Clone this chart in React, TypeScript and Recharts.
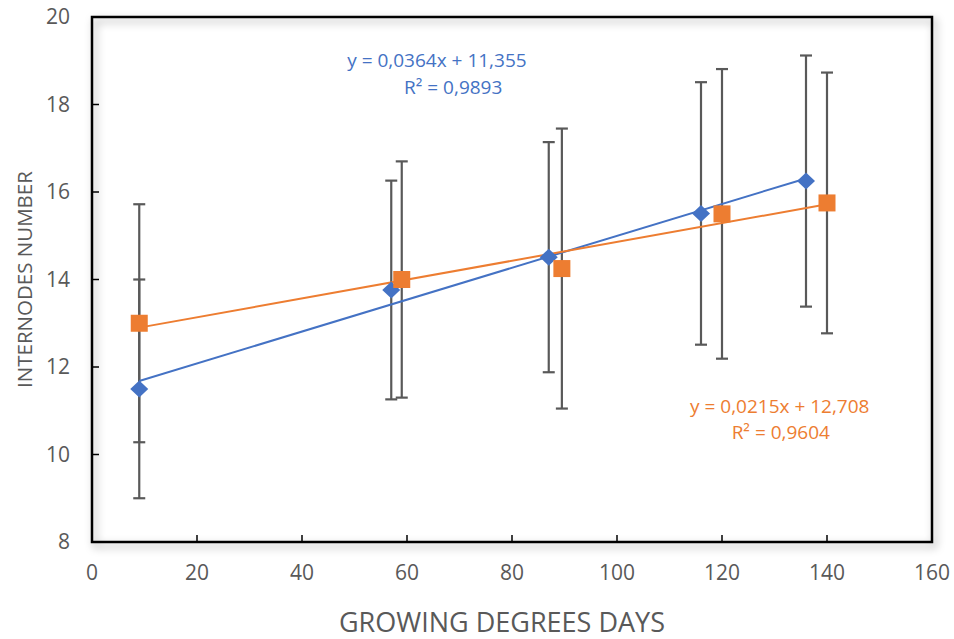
import React from 'react';
import {
    ScatterChart,
    Scatter,
    XAxis,
    YAxis,
    ErrorBar,
    ReferenceArea,
    ReferenceDot
} from 'recharts';

const FONT = '"Open Sans", "Noto Sans", sans-serif';
const TEXT = '#595959';
const BLUE = '#4472C4';
const ORANGE = '#ED7D31';
const BAR = '#595959';

// axis ticks
const xTicks = [0, 20, 40, 60, 80, 100, 120, 140, 160];
const yTicks = [8, 10, 12, 14, 16, 18, 20];

// blue series (diamonds)
const blueX = [9, 57, 87, 116, 136];
const blueY = [11.5, 13.76, 14.51, 15.51, 16.25];
const blueErr = [2.5, 2.5, 2.63, 3.0, 2.87];

// orange series (squares)
const orangeX = [9, 59, 89.5, 120, 140];
const orangeY = [13.0, 14.0, 14.25, 15.5, 15.75];
const orangeErr = [2.72, 2.7, 3.2, 3.31, 2.98];

// linear trendline end points
const blueTrendX = [9, 136];
const blueTrendY = [11.68, 16.31];
const orangeTrendX = [9, 140];
const orangeTrendY = [12.9, 15.72];

const blueData = blueX.map((x, i) => ({ x, y: blueY[i], err: blueErr[i] }));
const orangeData = orangeX.map((x, i) => ({ x, y: orangeY[i], err: orangeErr[i] }));
const blueTrend = blueTrendX.map((x, i) => ({ x, y: blueTrendY[i] }));
const orangeTrend = orangeTrendX.map((x, i) => ({ x, y: orangeTrendY[i] }));

const Diamond = (props: any) => {
    const { cx, cy } = props;
    return <path d={`M${cx},${cy - 8.5} L${cx + 9},${cy} L${cx},${cy + 8.5} L${cx - 9},${cy} Z`} fill={BLUE} />;
};

const Square = (props: any) => {
    const { cx, cy } = props;
    return <rect x={cx - 8.5} y={cy - 8.5} width={17} height={17} fill={ORANGE} />;
};

const NoDot = () => <g />;

const PlotBorder = (props: any) => (
    <rect
        x={props.x}
        y={props.y}
        width={props.width}
        height={props.height}
        fill="none"
        stroke="#000"
        strokeWidth={2.5}
        style={{ filter: 'drop-shadow(3px 4px 4px rgba(0,0,0,0.35))' }}
    />
);

const tickStyle = { fontSize: 21, fill: TEXT, fontFamily: FONT };
const eqStyle = { fontSize: 19, fontFamily: FONT };

export default function App() {
    return (
        <div style={{ position: 'absolute', left: 0, top: 0, width: 954, height: 639, background: '#fff', fontFamily: FONT }}>
            <ScatterChart width={954} height={639} margin={{ top: 17, right: 22, left: 0, bottom: 0 }}>
                <XAxis
                    type="number"
                    dataKey="x"
                    domain={[0, 160]}
                    ticks={xTicks}
                    interval={0}
                    height={97}
                    axisLine={false}
                    tickLine={{ stroke: '#000', strokeWidth: 1.5 }}
                    tickSize={-7}
                    tickMargin={30}
                    tick={tickStyle}
                    fontSize={21}
                    label={{
                        value: 'GROWING DEGREES DAYS',
                        position: 'insideBottom',
                        offset: 7,
                        dx: -10,
                        fill: TEXT,
                        fontSize: 27,
                        fontFamily: FONT
                    }}
                />
                <YAxis
                    type="number"
                    dataKey="y"
                    domain={[8, 20]}
                    ticks={yTicks}
                    interval={0}
                    width={92}
                    axisLine={false}
                    tickLine={{ stroke: '#000', strokeWidth: 1.5 }}
                    tickSize={-7}
                    tickMargin={29}
                    tick={tickStyle}
                    fontSize={21}
                    label={{
                        value: 'INTERNODES NUMBER',
                        angle: -90,
                        position: 'insideLeft',
                        offset: 25,
                        textAnchor: 'middle',
                        fill: TEXT,
                        fontSize: 20.5,
                        fontFamily: FONT
                    }}
                />
                <Scatter data={blueData} shape={NoDot} isAnimationActive={false}>
                    <ErrorBar dataKey="err" direction="y" width={6} stroke={BAR} strokeWidth={2.2} />
                </Scatter>
                <Scatter data={orangeData} shape={NoDot} isAnimationActive={false}>
                    <ErrorBar dataKey="err" direction="y" width={6} stroke={BAR} strokeWidth={2.2} />
                </Scatter>
                <Scatter
                    data={blueTrend}
                    shape={NoDot}
                    line={{ stroke: BLUE, strokeWidth: 2 }}
                    lineType="joint"
                    isAnimationActive={false}
                />
                <Scatter
                    data={orangeTrend}
                    shape={NoDot}
                    line={{ stroke: ORANGE, strokeWidth: 2 }}
                    lineType="joint"
                    isAnimationActive={false}
                />
                <Scatter data={blueData} shape={Diamond} isAnimationActive={false} />
                <Scatter data={orangeData} shape={Square} isAnimationActive={false} />
                <ReferenceDot
                    x={65.7}
                    y={19.0}
                    r={0}
                    label={{ value: 'y = 0,0364x + 11,355', position: 'center', fill: BLUE, ...eqStyle }}
                />
                <ReferenceDot
                    x={68.8}
                    y={18.4}
                    r={0}
                    label={{ value: 'R² = 0,9893', position: 'center', fill: BLUE, ...eqStyle }}
                />
                <ReferenceDot
                    x={131}
                    y={11.11}
                    r={0}
                    label={{ value: 'y = 0,0215x + 12,708', position: 'center', fill: ORANGE, ...eqStyle }}
                />
                <ReferenceDot
                    x={131.2}
                    y={10.51}
                    r={0}
                    label={{ value: 'R² = 0,9604', position: 'center', fill: ORANGE, ...eqStyle }}
                />
                <ReferenceArea x1={0} x2={160} y1={8} y2={20} shape={PlotBorder} />
            </ScatterChart>
        </div>
    );
}
